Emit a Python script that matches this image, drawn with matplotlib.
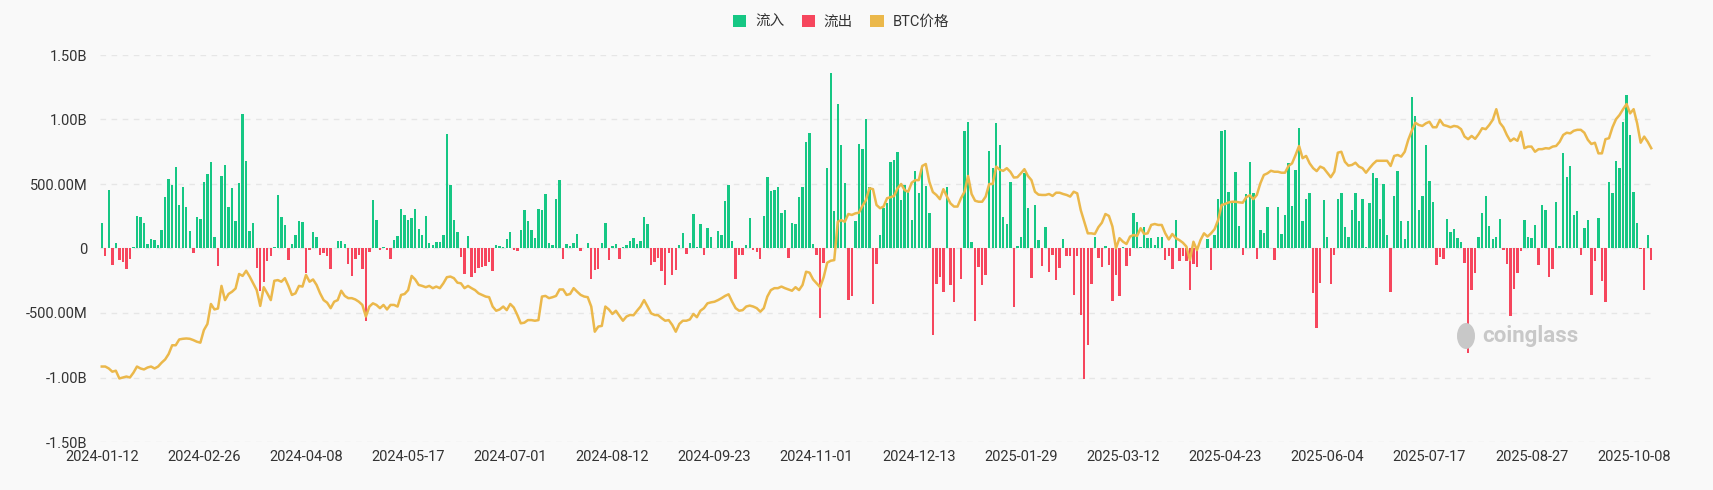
import numpy as np
import matplotlib
matplotlib.use("Agg")
import matplotlib.pyplot as plt
from matplotlib.patches import Patch, Ellipse

plt.rcParams['font.family'] = ['Roboto', 'Noto Sans CJK SC', 'DejaVu Sans']

# daily net flow (million USD), trading days 2024-01-12 .. 2025-10-15
flows = [
    200, -57, 450, -129, 41, -88, -108, -160, -82, 10,
    253, 242, 196, 36, 77, 67, 31, 144, 402, 536,
    490, 634, 335, 474, 325, 134, -36, 247, 232, 515,
    577, 670, 88, -139, 562, 644, 325, 469, 216, 505,
    1041, 680, 134, 196, -155, -330, -263, -98, -57, 10,
    417, 242, 180, -88, 36, 108, 211, 204, -190, -15,
    126, 90, -52, -36, -57, -160, 5, 59, 62, 33,
    -118, -214, -85, -54, -160, -559, -28, 376, 219, -10,
    13, -8, -85, 67, 100, 304, 260, 222, 237, 304,
    152, 108, 250, 44, 31, 49, 49, 106, 884, 490,
    219, 129, -64, -198, 100, -224, -190, -150, -147, -139,
    -106, -173, 31, 18, 10, 72, 129, -10, -18, 144,
    296, 214, 147, 80, 309, 299, 423, 44, 31, 384,
    531, -85, 36, 23, 46, 113, -18, 0, 44, -240,
    -170, -157, 39, 196, -93, 21, 33, -85, 8, 28,
    62, 82, 33, 59, 245, 193, -131, -108, -72, -175,
    -286, -36, -209, -170, 31, 119, -41, 41, 265, 15,
    191, -52, 157, 93, 5, 137, 106, 366, 495, 62,
    -240, -49, -49, 28, 235, -15, -28, -80, 253, 557,
    446, 456, 474, 276, 299, -77, 198, 191, 402, 474,
    825, 894, 33, -54, -539, -113, 624, 1358, 294, 1118,
    801, 508, -400, -369, 216, 812, 773, 1002, 477, -433,
    -121, 106, 317, 356, 673, 683, 747, 374, 490, 438,
    222, 598, 430, 637, 485, 276, -670, -276, -224, -338,
    474, -286, -415, 5, -240, 907, 977, 52, -564, -147,
    -283, -206, 752, 626, 974, 801, 247, 191, 515, -454,
    18, 90, 585, 317, -232, 340, 64, -139, 170, -183,
    -54, -247, -155, 70, -59, -62, -363, -59, -515, -1010,
    -750, -276, 93, -75, -142, 18, -131, -407, -204, -371,
    13, -134, -57, 273, 209, 13, 165, 82, 82, 28,
    88, 88, -93, -57, -157, 219, -98, -57, -98, -322,
    -124, -147, 3, 3, 75, -168, 103, 381, 912, 917,
    441, 350, 590, 173, -52, 425, 673, 428, -85, 142,
    119, 322, 3, -90, 320, 113, 260, 665, 332, 608,
    933, 211, 384, 430, -345, -613, -265, 374, 88, -276,
    -54, 384, 430, 165, 88, 301, 433, 216, 385, 8,
    350, 588, 546, 227, 500, 103, -338, 407, 598, 216,
    75, 216, 1173, 1028, 296, 405, 799, 523, 361, -129,
    -64, -82, 227, 131, 155, 82, 49, -113, -809, -322,
    -193, 90, 276, 407, 178, 70, 88, 229, -13, -121,
    -521, -314, -193, -21, 219, 88, 80, 180, -126, 335,
    299, -222, -160, 363, 21, 740, 554, 642, 260, 291,
    -52, 162, 222, -363, -100, 240, -250, -417, 518, 430,
    675, 626, 984, 1188, 876, 438, 198, -5, -325, 103,
    -93,
]

# BTC price (USD) on the same days
btc_price = [
    43400, 43400, 42800, 41800, 42100, 39700, 40000, 40300, 40000, 41500,
    43400, 42800, 42500, 43100, 43400, 42800, 43400, 44600, 45600, 47300,
    50000, 50000, 51800, 52000, 52100, 52000, 51600, 51100, 50800, 54700,
    56600, 62800, 61100, 61400, 68400, 64000, 65900, 66600, 67600, 72100,
    71500, 73100, 71300, 69200, 67100, 62200, 68000, 66100, 64000, 70000,
    70200, 69700, 70800, 68400, 65600, 66100, 68400, 68200, 71800, 69700,
    70400, 68700, 66100, 64000, 63200, 61500, 63500, 64000, 66900, 65300,
    64600, 64600, 64200, 63500, 62500, 58900, 62000, 63000, 62500, 61500,
    62500, 61100, 62500, 62500, 62000, 65600, 65900, 67100, 71500, 70400,
    68700, 68400, 68000, 68400, 67700, 68200, 67700, 69200, 71100, 71300,
    70800, 69400, 69200, 67700, 68400, 67700, 67100, 66100, 65600, 65100,
    64900, 62000, 60700, 61100, 62000, 60900, 62800, 61700, 59400, 56800,
    57000, 57800, 57800, 57600, 57800, 65100, 65300, 64600, 64900, 65300,
    67300, 67300, 65600, 65900, 67700, 66600, 65600, 65100, 64900, 62000,
    54200, 55800, 56000, 62000, 61100, 59700, 60700, 59100, 57600, 58900,
    59400, 59300, 60700, 62000, 64000, 62000, 59900, 59400, 59300, 58400,
    57600, 57800, 56300, 54200, 56600, 57600, 57600, 58000, 59700, 58700,
    60700, 61500, 63000, 63300, 63500, 64000, 64600, 65300, 65800, 63500,
    61500, 60700, 60900, 62000, 62300, 62000, 61500, 60400, 61500, 65100,
    67100, 67700, 67700, 68200, 67700, 67300, 66900, 68000, 67100, 68700,
    72800, 72500, 70400, 69200, 68000, 71100, 75600, 76200, 76400, 88300,
    88800, 88300, 90700, 90400, 90900, 91100, 93200, 95000, 98700, 98400,
    93500, 92500, 93000, 95600, 95900, 96300, 98700, 100000, 98100, 97600,
    100400, 101200, 101200, 105600, 106200, 100700, 97500, 96600, 95300, 98400,
    96100, 94000, 93000, 93000, 95600, 97600, 102500, 96900, 94800, 94500,
    94500, 96100, 100000, 100000, 105400, 104400, 104100, 104900, 103800, 102000,
    102100, 103300, 104600, 102500, 101200, 97600, 96700, 96600, 96600, 96900,
    96300, 97300, 97300, 96900, 96600, 96100, 97600, 97100, 91900, 88300,
    84700, 84700, 84500, 86600, 88000, 90700, 90100, 86800, 80100, 83200,
    82100, 81400, 83700, 84200, 83900, 86300, 84500, 84700, 87300, 87600,
    87300, 87300, 84700, 82800, 84500, 83200, 82600, 81800, 80600, 76400,
    82100, 79500, 82600, 84700, 83700, 84700, 86000, 88800, 93500, 93800,
    94300, 94500, 94500, 94300, 94200, 95900, 96500, 95300, 96600, 100200,
    102800, 103300, 104100, 103800, 103800, 103500, 103500, 105600, 106400, 109000,
    111800, 108000, 108700, 106400, 104900, 104000, 105400, 104900, 103500, 102100,
    103800, 109700, 110000, 106900, 105700, 105900, 106600, 105400, 104900, 103500,
    104900, 106200, 107200, 107200, 107200, 107200, 105600, 108700, 109000, 108500,
    110000, 113700, 116500, 119000, 118300, 118000, 118800, 119300, 117600, 117600,
    119900, 118300, 118000, 117600, 118000, 117800, 117000, 114700, 113900, 114900,
    114000, 115500, 117300, 117000, 118300, 119900, 123200, 119000, 117600, 115200,
    113300, 114100, 113400, 116200, 111100, 111600, 111600, 110000, 110800, 110800,
    111100, 111000, 111600, 111800, 113100, 115200, 115900, 115700, 116500, 116800,
    116800, 115900, 113700, 112400, 112800, 109500, 109500, 113900, 114200, 117600,
    120100, 121400, 123200, 124800, 121900, 123200, 118800, 112800, 114700, 113100,
    111100,
]

tick_labels = [
    "2024-01-12", "2024-02-26", "2024-04-08", "2024-05-17", "2024-07-01",
    "2024-08-12", "2024-09-23", "2024-11-01", "2024-12-13", "2025-01-29",
    "2025-03-12", "2025-04-23", "2025-06-04", "2025-07-17", "2025-08-27",
    "2025-10-08",
]
label_every = 29

y_ticks = [-1500, -1000, -500, 0, 500, 1000, 1500]
y_labels = ["-1.50B", "-1.00B", "-500.00M", "0", "500.00M", "1.00B", "1.50B"]

GREEN = "#16c784"
RED = "#f6465d"
GOLD = "#ebb84b"
BG = "#f9f9f9"

flows = np.array(flows)
x = np.arange(len(flows))
colors = np.where(flows >= 0, GREEN, RED)

fig = plt.figure(figsize=(17.13, 4.90), dpi=100, facecolor=BG)
ax = fig.add_axes([100 / 1713, 48 / 490, 1553 / 1713, 387 / 490])
ax.set_facecolor(BG)

ax.bar(x, flows, width=0.68, color=colors, linewidth=0, zorder=2)

ax.set_xlim(-0.5, len(flows) - 0.5)
ax.set_ylim(-1500, 1500)
ax.set_yticks(y_ticks)
ax.set_yticklabels(y_labels)
ax.set_xticks(np.arange(len(tick_labels)) * label_every)
ax.set_xticklabels(tick_labels)
ax.tick_params(axis='both', length=0, labelsize=10.5, colors='#333333')
ax.tick_params(axis='y', pad=9)
ax.tick_params(axis='x', pad=6)
for s in ax.spines.values():
    s.set_visible(False)
ax.grid(axis='y', color='#e6e6e6', linestyle=(0, (4, 4)), linewidth=1, zorder=0)
ax.set_axisbelow(True)

# price on hidden right axis
ax2 = ax.twinx()
ax2.plot(x, btc_price, color=GOLD, linewidth=1.8, zorder=3,
         solid_joinstyle='round')
ax2.set_ylim(20000, 140000)
ax2.set_yticks([])
for s in ax2.spines.values():
    s.set_visible(False)

# legend
handles = [Patch(facecolor=GREEN, edgecolor='none', label='流入'),
           Patch(facecolor=RED, edgecolor='none', label='流出'),
           Patch(facecolor=GOLD, edgecolor='none', label='BTC价格')]
fig.legend(handles=handles, loc='upper center', bbox_to_anchor=(0.491, 0.997),
           ncol=3, frameon=False, fontsize=10.5, handlelength=0.9,
           handleheight=0.9, handletextpad=0.6, columnspacing=1.2,
           labelcolor='#333333')

# watermark
fig.patches.append(Ellipse((1466 / 1713, 1 - 336 / 490), 18 / 1713, 26 / 490,
                           transform=fig.transFigure, facecolor='#c8c8c8',
                           edgecolor='none', zorder=1))
fig.text(1482 / 1713, 1 - 336 / 490, "coinglass", fontsize=16,
         fontweight='bold', color='#c8c8c8', va='center', ha='left')

fig.savefig("out.png", dpi=100, facecolor=BG)
